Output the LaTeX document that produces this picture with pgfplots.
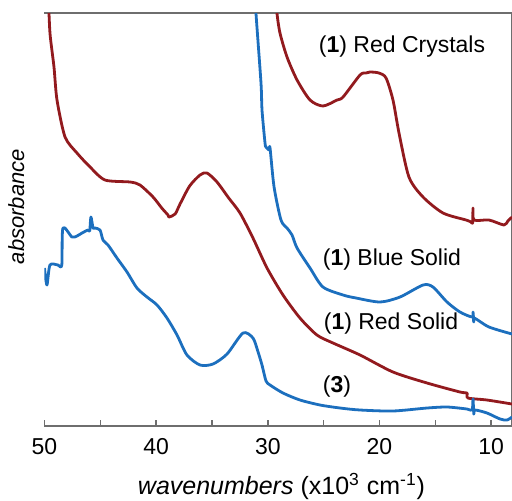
\documentclass[border=0pt]{standalone}
\usepackage{pgfplots}
\pgfplotsset{compat=1.18}
\usepackage{fontspec}
\setmainfont{Liberation Sans}

\definecolor{redline}{RGB}{146,26,30}
\definecolor{blueline}{RGB}{28,111,190}
\definecolor{axisgray}{RGB}{110,110,110}

\begin{document}
\begin{tikzpicture}
\begin{axis}[
    scale only axis,
    width=233.75pt, height=206.5pt,
    x dir=reverse,
    xmin=8.13, xmax=50,
    ymin=0, ymax=413,
    axis x line*=box,
    axis y line*=right,
    axis line style={-, axisgray, line width=0.7pt},
    xtick={10,20,30,40,50},
    minor xtick={15,25,35,45},
    xtick pos=bottom,
    tick align=inside,
    major tick length=3pt, minor tick length=3pt,
    tick style={axisgray, line width=0.7pt},
    ytick=\empty,
    ticklabel style={font=\fontsize{11.5}{13}\selectfont},
    xticklabel style={yshift=-2.5pt},
    /pgf/number format/assume math mode=true,
    xlabel={\textit{wavenumbers} (x10\textsuperscript{3} cm\textsuperscript{-1})},
    ylabel={\textit{absorbance}},
    xlabel style={font=\fontsize{12.5}{14}\selectfont, at={(axis description cs:0.507,0)}, anchor=north, yshift=-20pt},
    ylabel style={font=\fontsize{11}{13}\selectfont, at={(axis description cs:-0.028,0.531)}, anchor=south},
    every axis plot/.append style={line width=1.4pt, line join=round, smooth, tension=0.45},
]

% (1) Red Solid
\addplot[redline] coordinates {
(49.65,430)(49.51,393)(49.15,359)(48.88,326)(48.16,289)(47.09,273)(45.92,259)
(44.58,246)(42.34,244)(41.45,241)(40.28,229)(39.5,218)(38.94,211)(38.85,209)
(38.3,212)(37.86,222)(37.0,240)(36.07,251)(35.45,253)(34.55,244)(33.5,228)
(32.49,213)(31.33,188)(30.07,158)(28.64,131)(27.12,108)(25.60,91)(24.16,83)
(21.74,71)(18.79,54)(15.74,43)(12.79,34)(12.16,33)(12.07,28)(10.37,26)(8.13,22)
};

% (1) Red Crystals
\addplot[redline] coordinates {
(29.25,430)(29.18,413)(28.91,393)(28.28,369)(27.38,346)(26.22,326)(25.06,320)
(23.80,326)(23.26,329)(21.74,351)(21.21,353)(20.85,354)(20.04,353)(19.41,348)
(18.79,326)(18.25,293)(17.36,249)(16.10,229)(14.31,213)(12.25,206)(11.80,204)
(11.65,203)(11.62,218)(11.53,206)(10.19,206)(8.85,201)(8.5,205)(8.13,209)
};

% (1) Blue Solid
\addplot[blueline] coordinates {
(31.10,430)(31.06,413)(30.61,343)(30.52,316)(30.25,283)(30.16,279)(29.89,276)
(29.80,278)(29.44,239)(28.82,206)(28.28,198)(27.83,191)(27.38,178)(26.22,158)
(25.06,139)(23.26,131)(22.10,128)(19.95,124)(18.16,129)(16.10,141)(15.21,139)
(13.95,124)(12.79,114)(11.70,109)(11.62,114)(11.55,104)(11.50,108)(10.19,99)(8.13,92)
};

% (3)
\addplot[blueline] coordinates {
(50.0,158)(49.78,141)(49.51,161)(48.79,161)(48.45,161)(48.35,198)(47.54,189)
(47.09,190)(46.64,193)(46.10,196)(45.95,195)(45.84,209)(45.65,198)(45.48,198)
(45.03,196)(44.76,186)(44.31,181)(43.51,168)(42.61,154)(41.72,138)(40.82,129)
(39.92,121)(39.03,108)(38.13,91)(37.24,71)(36.07,61)(34.91,62)(33.65,72)
(32.22,93)(31.33,88)(30.9,75)(30.52,61)(30.16,45)(29.80,41)(28.64,33)(27.12,26)
(25.32,21)(23.53,18)(21.74,16)(18.79,15)(15.74,18)(13.95,19)(12.16,17)(11.70,16)
(11.62,27)(11.55,12)(11.45,16)(10.37,13)(9.20,7)(8.58,6)(8.13,9)
};

\node[font=\fontsize{11.5}{13}\selectfont] at (axis cs:17.98,379) {(\textbf{1}) Red Crystals};
\node[font=\fontsize{11.5}{13}\selectfont] at (axis cs:18.88,166) {(\textbf{1}) Blue Solid};
\node[font=\fontsize{11.5}{13}\selectfont] at (axis cs:18.97,102) {(\textbf{1}) Red Solid};
\node[font=\fontsize{11.5}{13}\selectfont] at (axis cs:23.80,39) {(\textbf{3})};

\coordinate (BL) at (rel axis cs:0,0);
\end{axis}
\pgfresetboundingbox
\path ([shift={(-22.25pt,-37pt)}]BL) rectangle ([shift={(233.75pt,213pt)}]BL);
\end{tikzpicture}
\end{document}
